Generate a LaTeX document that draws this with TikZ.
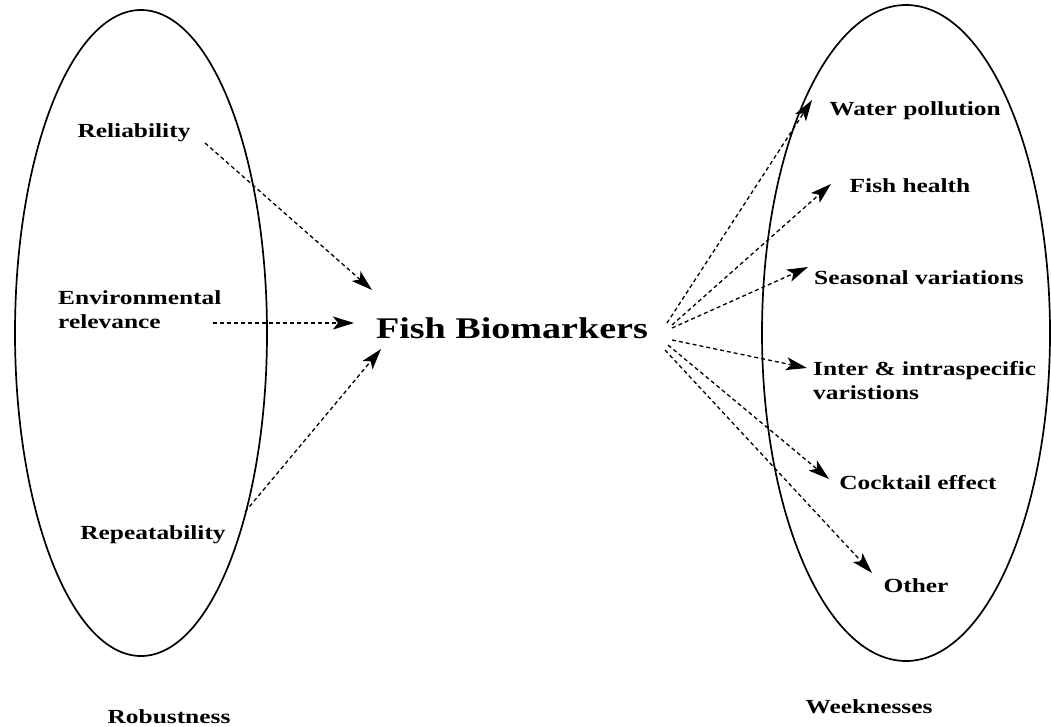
\documentclass[tikz,border=0pt]{standalone}
\usepackage{fontspec}
\setmainfont{Liberation Serif}[FakeStretch=1.27]
\usetikzlibrary{arrows.meta}
\begin{document}
\begin{tikzpicture}[x=1pt,y=-1pt,
  lab/.style={inner sep=0pt,font=\fontsize{20}{24}\selectfont\bfseries},
  title/.style={inner sep=0pt,font=\fontsize{30}{34}\selectfont\bfseries},
  oval/.style={line width=1.7pt},
  arr/.style={line width=1.3pt,dash pattern=on 4pt off 3pt,-{Stealth[length=21pt,width=13pt,inset=5pt]}}]
\useasboundingbox (0,0) rectangle (1051,727);
% ovals
\draw[oval] (141,333) ellipse [x radius=126, y radius=323];
\draw[oval] (906,333) ellipse [x radius=144, y radius=328];
% left labels
\node[lab] (rel) at (134,133) {Reliability};
\node[lab,anchor=west,align=left] (env) at (58,310) {Environmental\\relevance};
\node[lab] (rep) at (153,535) {Repeatability};
\node[lab] (rob) at (169,717) {Robustness};
% centre
\node[title] (fb) at (512,328) {Fish Biomarkers};
% right labels
\node[lab] (wp) at (915,111) {Water pollution};
\node[lab] (fh) at (910,186) {Fish health};
\node[lab] (sv) at (919,278) {Seasonal variations};
\node[lab,anchor=west,align=left] (ii) at (813,381) {Inter \& intraspecific\\varistions};
\node[lab] (ce) at (918,483) {Cocktail effect};
\node[lab] (ot) at (916,586) {Other};
\node[lab] (wk) at (869,707) {Weeknesses};
% connector ends
\coordinate (r1s) at (205,143); \coordinate (r1e) at (372,290);
\coordinate (r2s) at (213,323); \coordinate (r2e) at (354,323);
\coordinate (r3s) at (245,512); \coordinate (r3e) at (381,349);
\coordinate (wps) at (667,323); \coordinate (wpe) at (812,100);
\coordinate (fhs) at (672,325); \coordinate (fhe) at (831,184);
\coordinate (svs) at (672,328); \coordinate (sve) at (808,267);
\coordinate (iis) at (672,340); \coordinate (iie) at (807,368);
\coordinate (ces) at (668,345); \coordinate (cee) at (829,479);
\coordinate (ots) at (665,350); \coordinate (ote) at (872,573);
% connectors
\draw[arr] (r1s) -- (r1e);
\draw[arr] (r2s) -- (r2e);
\draw[arr] (r3s) -- (r3e);
\draw[arr] (wps) -- (wpe);
\draw[arr] (fhs) -- (fhe);
\draw[arr] (svs) -- (sve);
\draw[arr] (iis) -- (iie);
\draw[arr] (ces) -- (cee);
\draw[arr] (ots) -- (ote);
\end{tikzpicture}
\end{document}
